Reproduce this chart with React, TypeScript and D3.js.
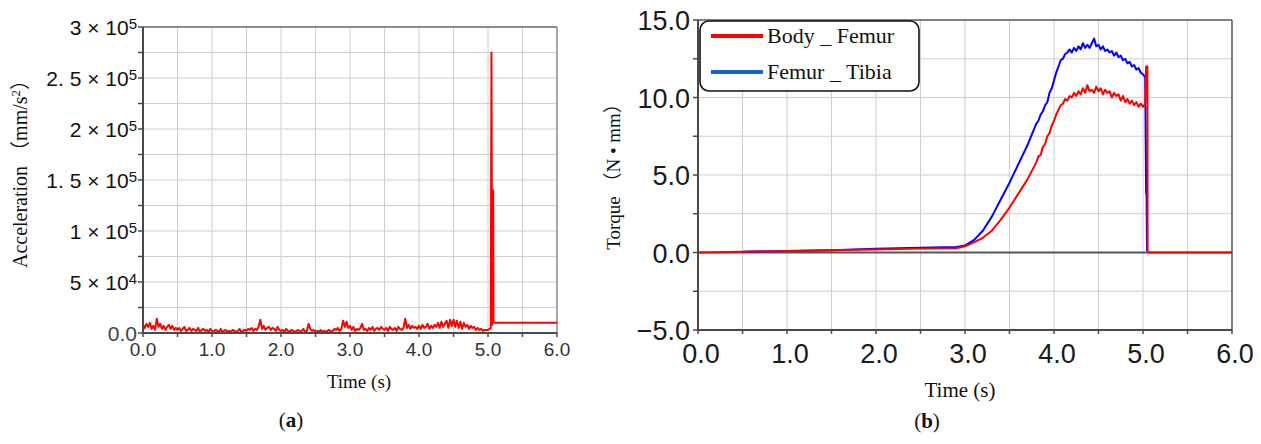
import React from 'react';
import * as d3 from 'd3';

// ---------- (a) Acceleration data (units: 1000 mm/s^2) ----------
const accelStart = 0;
const accelStep = 0.025;
const accelNoise = [
  8, 5, 9, 6, 10, 4, 7, 3, 14, 6, 9, 4, 7, 3, 6, 8, 4, 7, 3, 5,
  3, 5, 2, 4, 6, 2, 3, 5, 2, 4, 3, 2, 5, 1, 3, 4, 2, 3, 1, 4,
  2, 1, 3, 2, 1, 4, 1, 2, 3, 1, 2, 1, 3, 2, 1, 2, 4, 1, 2, 3,
  2, 4, 3, 5, 2, 4, 3, 6, 13, 4, 7, 3, 5, 6, 3, 5, 4, 2, 6, 3,
  2, 3, 1, 4, 2, 1, 3, 2, 1, 2, 3, 1, 2, 4, 1, 2, 9, 4, 2, 3,
  1, 2, 1, 3, 1, 2, 1, 2, 3, 1, 2, 4, 3, 5, 2, 4, 12, 6, 11, 5,
  7, 3, 6, 2, 4, 3, 5, 9, 3, 4, 2, 5, 3, 6, 2, 4, 5, 3, 6, 4,
  3, 5, 2, 6, 4, 3, 5, 2, 6, 4, 3, 5, 14, 5, 8, 4, 7, 5, 6, 4,
  7, 4, 8, 5, 6, 9, 4, 7, 5, 8, 6, 10, 5, 11, 6, 9, 12, 5, 13, 7,
  13, 6, 12, 5, 11, 4, 10, 6, 8, 4, 7, 5, 6, 3, 5, 3, 4, 2, 3, 3,
];
const accelSpike: [number, number][] = [
  [5.0, 3], [5.025, 4], [5.04, 5], [5.05, 275], [5.06, 8], [5.075, 140], [5.08, 10], [6.0, 10],
];
const accelYTicks = [0, 50, 100, 150, 200, 250, 300];
const accelYMant = ['0.0', '5', '1', '1. 5', '2', '2. 5', '3'];
const accelYExp = ['', '4', '5', '5', '5', '5', '5'];
const timeTicks = [0, 1, 2, 3, 4, 5, 6];
const timeLabels = ['0.0', '1.0', '2.0', '3.0', '4.0', '5.0', '6.0'];

// ---------- (b) Torque data (N·mm) ----------
const bodyFemur: [number, number][] = [
  [0, 0], [0.5, 0.05], [1.0, 0.1], [1.5, 0.15], [2.0, 0.2], [2.5, 0.25], [2.9, 0.28],
  [3.0, 0.4], [3.1, 0.65], [3.2, 0.95], [3.3, 1.4], [3.4, 2.1], [3.5, 2.9], [3.6, 3.8], [3.7, 4.7],
  [3.8, 5.8], [3.825, 6.2], [3.85, 6.3], [3.875, 6.8], [3.9, 7.0], [3.925, 7.5], [3.95, 7.7], [3.975, 8.2],
  [4.0, 8.5], [4.025, 8.9], [4.05, 9.2], [4.075, 9.5], [4.1, 9.6], [4.125, 9.9], [4.15, 9.8], [4.175, 10.1],
  [4.2, 10.0], [4.225, 10.3], [4.25, 10.1], [4.275, 10.4], [4.3, 10.2], [4.325, 10.6], [4.35, 10.3], [4.375, 10.8],
  [4.4, 10.4], [4.425, 10.5], [4.45, 10.3], [4.475, 10.7], [4.5, 10.4], [4.525, 10.6], [4.55, 10.2], [4.575, 10.5],
  [4.6, 10.3], [4.625, 10.4], [4.65, 10.0], [4.675, 10.3], [4.7, 10.1], [4.725, 10.2], [4.75, 9.8], [4.775, 10.1],
  [4.8, 9.7], [4.825, 9.9], [4.85, 9.6], [4.875, 9.8], [4.9, 9.5], [4.925, 9.7], [4.95, 9.4], [4.975, 9.6],
  [5.0, 9.4], [5.025, 9.6], [5.035, 12.0], [5.05, 12.0], [5.052, 0], [6.0, 0],
];
const femurTibia: [number, number][] = [
  [0.5, 0.05], [1.0, 0.1], [1.5, 0.15], [2.0, 0.25], [2.5, 0.3], [2.9, 0.35],
  [3.0, 0.45], [3.1, 0.8], [3.2, 1.4], [3.3, 2.3], [3.4, 3.4], [3.5, 4.5], [3.6, 5.7], [3.7, 6.9],
  [3.8, 8.3], [3.825, 8.5], [3.85, 8.9], [3.875, 9.1], [3.9, 9.5], [3.925, 9.7], [3.95, 10.3], [3.975, 10.6],
  [4.0, 11.1], [4.025, 11.6], [4.05, 12.0], [4.075, 12.4], [4.1, 12.5], [4.125, 12.8], [4.15, 12.9], [4.175, 13.1],
  [4.2, 12.9], [4.225, 13.2], [4.25, 13.0], [4.275, 13.3], [4.3, 13.1], [4.325, 13.5], [4.35, 13.2], [4.375, 13.4],
  [4.4, 13.2], [4.425, 13.5], [4.45, 13.8], [4.475, 13.3], [4.5, 13.4], [4.525, 13.1], [4.55, 13.3], [4.575, 13.0],
  [4.6, 13.1], [4.625, 12.9], [4.65, 13.0], [4.675, 12.7], [4.7, 12.9], [4.725, 12.6], [4.75, 12.7], [4.775, 12.4],
  [4.8, 12.5], [4.825, 12.2], [4.85, 12.3], [4.875, 12.0], [4.9, 12.1], [4.925, 11.8], [4.95, 11.9], [4.975, 11.6],
  [5.0, 11.5], [5.025, 11.3], [5.035, 3.8], [5.04, 3.8], [5.045, 0.1],
];
const torqueYTicks = [-5, 0, 5, 10, 15];
const torqueYLabels = ['\u22125.0', '0.0', '5.0', '10.0', '15.0'];
const legendNames = ['Body _ Femur', 'Femur _ Tibia'];

const SANS = '"Liberation Sans", Arial, sans-serif';
const SERIF = '"Liberation Serif", "Times New Roman", "Noto Sans CJK SC", serif';
const GRID = '#cfcfcf';
const AXIS = '#4a4a4a';

export default function App() {
  const xA = d3.scaleLinear().domain([0, 6]).range([143, 557]);
  const yA = d3.scaleLinear().domain([0, 300]).range([333, 27]);
  const xB = d3.scaleLinear().domain([0, 6]).range([698, 1232]);
  const yB = d3.scaleLinear().domain([-5, 15]).range([330, 20]);

  const accelPts: [number, number][] = accelNoise.map((v, i) => [accelStart + i * accelStep, v]);
  const accelAll = accelPts.concat(accelSpike);

  const lineA = d3.line<[number, number]>().x(d => xA(d[0])).y(d => yA(d[1]));
  const lineB = d3.line<[number, number]>().x(d => xB(d[0])).y(d => yB(d[1]));

  const halfTicks = d3.range(0, 6.01, 0.5);
  const aGridY = d3.range(25, 300, 25);
  const bGridY = d3.range(-2.5, 15, 2.5);

  return (
    <svg width={1261} height={444} style={{ position: 'absolute', left: 0, top: 0, background: '#fff' }}>
      {/* ================= (a) ================= */}
      <g>
        {halfTicks.slice(1, -1).map(t => (
          <line key={'agx' + t} x1={xA(t)} x2={xA(t)} y1={yA(0)} y2={yA(300)} stroke={GRID} strokeWidth={1} />
        ))}
        {aGridY.map(v => (
          <line key={'agy' + v} x1={xA(0)} x2={xA(6)} y1={yA(v)} y2={yA(v)} stroke={GRID} strokeWidth={1} />
        ))}
        <line x1={xA(0)} x2={xA(6)} y1={yA(300)} y2={yA(300)} stroke="#666" strokeWidth={1.5} />
        <line x1={xA(6)} x2={xA(6)} y1={yA(0)} y2={yA(300)} stroke="#888" strokeWidth={1.5} />
        <path d={lineA(accelAll) || ''} fill="none" stroke="#ff0000" strokeWidth={2} strokeLinejoin="round" />
        <line x1={xA(0)} x2={xA(0)} y1={yA(0) + 1} y2={yA(300)} stroke={AXIS} strokeWidth={2} />
        <line x1={xA(0)} x2={xA(6)} y1={yA(0)} y2={yA(0)} stroke={AXIS} strokeWidth={2} />
        {d3.range(0, 300.1, 25).map(v => (
          <line key={'aty' + v} x1={xA(0) - 5} x2={xA(0)} y1={yA(v)} y2={yA(v)} stroke={AXIS} strokeWidth={1.5} />
        ))}
        {halfTicks.map(t => (
          <line key={'atx' + t} x1={xA(t)} x2={xA(t)} y1={yA(0)} y2={yA(0) + 4} stroke={AXIS} strokeWidth={1.5} />
        ))}
        {accelYTicks.map((v, i) => (
          <text key={'aly' + v} x={137} y={yA(v) + 8} textAnchor="end" fontFamily={SANS} fontSize={21}
            fill={i === 0 ? '#444' : '#111'}>
            {accelYExp[i] ? accelYMant[i] + ' \u00d7 10' : accelYMant[i]}
            {accelYExp[i] ? <tspan dy={-6} fontSize={15}>{accelYExp[i]}</tspan> : null}
          </text>
        ))}
        {timeTicks.map((t, i) => (
          <text key={'alx' + t} x={xA(t)} y={yA(0) + 23} textAnchor="middle" fontFamily={SANS} fontSize={19} fill="#333">
            {timeLabels[i]}
          </text>
        ))}
        <text transform="translate(27,169) rotate(-90)" textAnchor="middle" fontFamily={SERIF} fontSize={20} fill="#111">
          Acceleration （mm/s<tspan dy={-7} fontSize={13}>2</tspan><tspan dy={7}>）</tspan>
        </text>
        <text x={359} y={388} textAnchor="middle" fontFamily={SERIF} fontSize={19} fill="#111">Time (s)</text>
        <text x={291} y={427} textAnchor="middle" fontFamily={SERIF} fontSize={21} fill="#111">
          (<tspan fontWeight="bold">a</tspan>)
        </text>
      </g>

      {/* ================= (b) ================= */}
      <g>
        {halfTicks.slice(1, -1).map(t => (
          <line key={'bgx' + t} x1={xB(t)} x2={xB(t)} y1={yB(-5)} y2={yB(15)} stroke={GRID} strokeWidth={1} />
        ))}
        {bGridY.filter(v => v !== 0).map(v => (
          <line key={'bgy' + v} x1={xB(0)} x2={xB(6)} y1={yB(v)} y2={yB(v)} stroke={GRID} strokeWidth={1} />
        ))}
        <line x1={xB(0)} x2={xB(6)} y1={yB(15)} y2={yB(15)} stroke="#555" strokeWidth={1.5} />
        <line x1={xB(6)} x2={xB(6)} y1={yB(-5)} y2={yB(15)} stroke="#555" strokeWidth={1.5} />
        <line x1={xB(0)} x2={xB(6)} y1={yB(0)} y2={yB(0)} stroke="#555" strokeWidth={2} />
        <path d={lineB(femurTibia) || ''} fill="none" stroke="#0000ff" strokeWidth={2} strokeLinejoin="round" />
        <path d={lineB(bodyFemur) || ''} fill="none" stroke="#ff0000" strokeWidth={2} strokeLinejoin="round" />
        <line x1={xB(0)} x2={xB(0)} y1={yB(-5) + 1} y2={yB(15)} stroke={AXIS} strokeWidth={2} />
        <line x1={xB(0)} x2={xB(6)} y1={yB(-5)} y2={yB(-5)} stroke={AXIS} strokeWidth={2} />
        {d3.range(-5, 15.1, 2.5).map(v => (
          <line key={'bty' + v} x1={xB(0) - 5} x2={xB(0)} y1={yB(v)} y2={yB(v)} stroke={AXIS} strokeWidth={1.5} />
        ))}
        {halfTicks.map(t => (
          <line key={'btx' + t} x1={xB(t)} x2={xB(t)} y1={yB(-5)} y2={yB(-5) + 4} stroke={AXIS} strokeWidth={1.5} />
        ))}
        {torqueYTicks.map((v, i) => (
          <text key={'bly' + v} x={690} y={yB(v) + 10} textAnchor="end" fontFamily={SANS} fontSize={27} fill="#1a1a1a">
            {torqueYLabels[i]}
          </text>
        ))}
        {timeTicks.map((t, i) => (
          <text key={'blx' + t} x={xB(t) + 3} y={yB(-5) + 33} textAnchor="middle" fontFamily={SANS} fontSize={27} fill="#1a1a1a">
            {timeLabels[i]}
          </text>
        ))}
        <text transform="translate(620,172) rotate(-90)" textAnchor="middle" fontFamily={SERIF} fontSize={19} fill="#111">
          Torque （N • mm）
        </text>
        <text x={960} y={397} textAnchor="middle" fontFamily={SERIF} fontSize={21} fill="#111">Time (s)</text>
        <text x={927} y={428} textAnchor="middle" fontFamily={SERIF} fontSize={21} fill="#111">
          (<tspan fontWeight="bold">b</tspan>)
        </text>
        <rect x={700} y={21} width={219} height={70} rx={9} ry={9} fill="#fff" stroke="#111" strokeWidth={1.6} />
        <line x1={711} x2={763} y1={36} y2={36} stroke="#ff0000" strokeWidth={4} />
        <line x1={711} x2={763} y1={72} y2={72} stroke="#1565c8" strokeWidth={4} />
        <text x={767} y={43} fontFamily={SERIF} fontSize={22} fill="#111">{legendNames[0]}</text>
        <text x={767} y={79} fontFamily={SERIF} fontSize={22} fill="#111">{legendNames[1]}</text>
      </g>
    </svg>
  );
}
